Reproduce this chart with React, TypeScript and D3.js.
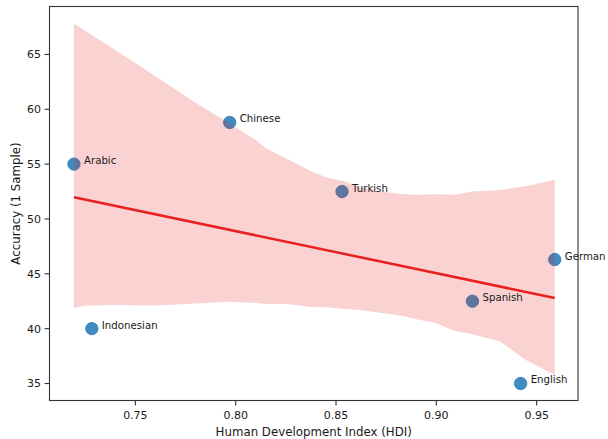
import React from "react";
import * as d3 from "d3";

// Languages with their country HDI and one-sample accuracy
const languages = ["Arabic", "Indonesian", "Chinese", "Turkish", "Spanish", "English", "German"];
const hdi = [0.7194, 0.7283, 0.797, 0.853, 0.918, 0.942, 0.959];
const accuracy = [55.0, 40.0, 58.8, 52.5, 42.5, 35.0, 46.3];

// Bootstrapped 95% confidence band of the regression
const bandHdi = [0.7194, 0.7255, 0.74, 0.76, 0.78, 0.797, 0.81, 0.8155, 0.8255, 0.837, 0.845, 0.855, 0.862, 0.874, 0.882, 0.889, 0.9, 0.909, 0.918, 0.932, 0.945, 0.959];
const bandUpper = [67.8, 67.1, 65.4, 63.0, 60.6, 58.7, 57.2, 56.4, 55.5, 54.4, 53.8, 53.4, 52.9, 52.45, 52.3, 52.2, 52.25, 52.2, 52.5, 52.65, 53.0, 53.55];
const bandLower = [41.9, 42.1, 42.15, 42.1, 42.3, 42.45, 42.35, 42.25, 42.25, 42.0, 41.95, 41.8, 41.7, 41.4, 41.2, 40.9, 40.5, 39.8, 39.5, 38.8, 37.1, 35.8];

// Axis limits and ticks
const xLimits = [0.7072, 0.9706];
const yLimits = [33.45, 69.37];
const xTicks = [0.75, 0.8, 0.85, 0.9, 0.95];
const yTicks = [35, 40, 45, 50, 55, 60, 65];

const W = 608;
const H = 439;
const plot = { left: 49.5, right: 578, top: 6.5, bottom: 400.5 };
const FONT = "DejaVu Sans, sans-serif";

export default function App() {
  const x = d3.scaleLinear().domain(xLimits).range([plot.left, plot.right]);
  const y = d3.scaleLinear().domain(yLimits).range([plot.bottom, plot.top]);

  // Ordinary least squares fit over the points
  const mx = d3.mean(hdi) as number;
  const my = d3.mean(accuracy) as number;
  const sxy = d3.sum(hdi, (v, i) => (v - mx) * (accuracy[i] - my));
  const sxx = d3.sum(hdi, (v) => (v - mx) * (v - mx));
  const slope = sxy / sxx;
  const fit = (v: number) => my + slope * (v - mx);
  const xExt = d3.extent(hdi) as [number, number];

  const bandRows = bandHdi.map((h, i) => ({ h, lo: bandLower[i], hi: bandUpper[i] }));
  const area = d3
    .area<{ h: number; lo: number; hi: number }>()
    .x((d) => x(d.h))
    .y0((d) => y(d.lo))
    .y1((d) => y(d.hi));
  const line = d3
    .line<number>()
    .x((d) => x(d))
    .y((d) => y(fit(d)));

  const textColor = "#1a1a1a";
  const tickLen = 4.9;

  return (
    <div style={{ position: "fixed", left: 0, top: 0 }}>
      <svg width={W} height={H} style={{ display: "block", background: "#fff" }}>
        {/* points */}
        <g>
          {languages.map((name, i) => (
            <circle
              key={name}
              cx={x(hdi[i])}
              cy={y(accuracy[i])}
              r={6.2}
              fill="#1f77b4"
              fillOpacity={0.85}
              stroke="#1f77b4"
              strokeOpacity={0.85}
              strokeWidth={0.9}
            />
          ))}
        </g>
        {/* confidence band */}
        <path d={area(bandRows) ?? ""} fill="#e62020" fillOpacity={0.2} />
        {/* regression line */}
        <path d={line(xExt) ?? ""} fill="none" stroke="#e8201f" strokeWidth={2.5} />
        {/* point labels */}
        {languages.map((name, i) => (
          <text
            key={name}
            x={x(hdi[i] + 0.005)}
            y={y(accuracy[i])}
            fontFamily={FONT}
            fontSize={10.2}
            fill={textColor}
          >
            {name}
          </text>
        ))}
        {/* frame */}
        <rect
          x={plot.left}
          y={plot.top}
          width={plot.right - plot.left}
          height={plot.bottom - plot.top}
          fill="none"
          stroke="#333"
          strokeWidth={1.1}
        />
        {/* x axis */}
        {xTicks.map((t) => (
          <g key={t}>
            <line x1={x(t)} x2={x(t)} y1={plot.bottom} y2={plot.bottom + tickLen} stroke="#333" strokeWidth={1.1} />
            <text x={x(t)} y={418.5} textAnchor="middle" fontFamily={FONT} fontSize={11} fill={textColor}>
              {d3.format(".2f")(t)}
            </text>
          </g>
        ))}
        <text
          x={(plot.left + plot.right) / 2}
          y={436}
          textAnchor="middle"
          fontFamily={FONT}
          fontSize={11.8}
          fill={textColor}
        >
          Human Development Index (HDI)
        </text>
        {/* y axis */}
        {yTicks.map((t) => (
          <g key={t}>
            <line x1={plot.left - tickLen} x2={plot.left} y1={y(t)} y2={y(t)} stroke="#333" strokeWidth={1.1} />
            <text x={plot.left - 8.5} y={y(t) + 4} textAnchor="end" fontFamily={FONT} fontSize={11} fill={textColor}>
              {t}
            </text>
          </g>
        ))}
        <text
          transform={`translate(19.5, ${(plot.top + plot.bottom) / 2}) rotate(-90)`}
          textAnchor="middle"
          fontFamily={FONT}
          fontSize={11.8}
          fill={textColor}
        >
          Accuracy (1 Sample)
        </text>
      </svg>
    </div>
  );
}
